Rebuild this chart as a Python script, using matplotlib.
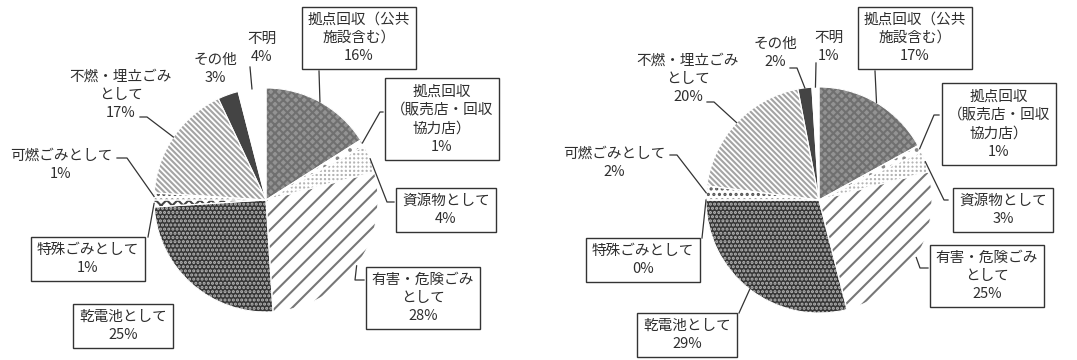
import numpy as np
import matplotlib.pyplot as plt

plt.rcParams['font.family'] = ['Noto Sans CJK JP', 'DejaVu Sans']
plt.rcParams['hatch.linewidth'] = 1.5

W, H = 1077, 360

categories = [
    "拠点回収（公共\n施設含む）",
    "拠点回収\n（販売店・回収\n協力店）",
    "資源物として",
    "有害・危険ごみ\nとして",
    "乾電池として",
    "特殊ごみとして",
    "可燃ごみとして",
    "不燃・埋立ごみ\nとして",
    "その他",
    "不明",
]
left_values = [16, 1, 4, 28, 25, 1, 1, 17, 3, 4]
right_values = [17, 1, 3, 25, 29, 0, 2, 20, 2, 1]

# wedge look: fill, hatch pattern, hatch colour
faces = ['#939393', 'white', '#b4b4b4', 'white', '#363636',
         'white', 'white', 'white', '#444444', 'white']
hatches = ['xxxx', '..', '++++', '//', '....',
           'xxx', '...', '\\' * 6, None, None]
hatch_colors = ['#707070', '#888888', '#ffffff', '#777777', '#b8b8b8',
                '#444444', '#555555', '#a4a4a4', '#444444', 'white']
boxed = [True, True, True, True, True, True, False, False, False, False]

# label layout in pixels measured from the top-left corner
left_layout = dict(
    center=(266, 200), radius=112,
    text=[(359, 38), (442, 119), (446, 210), (423, 298), (123, 326),
          (88, 259), (61, 165), (121, 95), (215, 69), (262, 48)],
    leaders=[[(319, 71)], [(383, 112), (380, 112)], [(394, 202), (387, 202)],
             [(364, 280), (355, 280)], None, [(148, 237)],
             [(117, 158), (127, 158)], [(140, 117), (147, 117)], None,
             [(250, 67)]],
)
right_layout = dict(
    center=(819, 200), radius=113,
    text=[(915, 38), (999, 124), (1003, 210), (987, 276), (687, 335),
          (643, 260), (614, 163), (688, 79), (775, 53), (829, 47)],
    leaders=[[(875, 71)], [(939, 115), (934, 115)], [(948, 200), (944, 200)],
             [(928, 268), (920, 268)], [(739, 313)], [(702, 238)],
             [(670, 155), (677, 155)], [(707, 102), (714, 102)],
             [(790, 68), (797, 68)], [(816, 63)]],
)


def draw_pie(ax, values, layout):
    cx, cy = layout['center']
    center = (cx, H - cy)
    r = layout['radius']
    wedges, _ = ax.pie(values, center=center, radius=r, startangle=90,
                       counterclock=False, colors=faces,
                       wedgeprops=dict(linewidth=0))
    for w, h, hc in zip(wedges, hatches, hatch_colors):
        w.set_edgecolor(hc)
        w.set_linewidth(0)
        if h:
            w.set_hatch(h)
    # thin white seams between the slices
    ax.pie(values, center=center, radius=r, startangle=90, counterclock=False,
           colors=['none'] * len(values),
           wedgeprops=dict(edgecolor='white', linewidth=0.8))

    for i, w in enumerate(wedges):
        mid = np.deg2rad((w.theta1 + w.theta2) / 2)
        anchor = (center[0] + r * np.cos(mid), center[1] + r * np.sin(mid))
        path = layout['leaders'][i]
        if path:
            xs = [p[0] for p in path] + [anchor[0]]
            ys = [H - p[1] for p in path] + [anchor[1]]
            ax.plot(xs, ys, color='#333333', lw=0.9, zorder=3)
        tx, ty = layout['text'][i]
        label = f"{categories[i]}\n{values[i]}%"
        bbox = None
        if boxed[i]:
            bbox = dict(boxstyle='square,pad=0.4', fc='white',
                        ec='#333333', lw=1)
        ax.text(tx, H - ty, label, ha='center', va='center',
                multialignment='center', fontsize=10.5, linespacing=1.4,
                color='#2e2e2e', bbox=bbox, zorder=4)


fig = plt.figure(figsize=(W / 100, H / 100), dpi=100)
ax = fig.add_axes([0, 0, 1, 1])

draw_pie(ax, left_values, left_layout)
draw_pie(ax, right_values, right_layout)

ax.set_xlim(0, W)
ax.set_ylim(0, H)
ax.set_aspect('equal')
ax.axis('off')

fig.savefig('out.png', dpi=100, facecolor='white')
